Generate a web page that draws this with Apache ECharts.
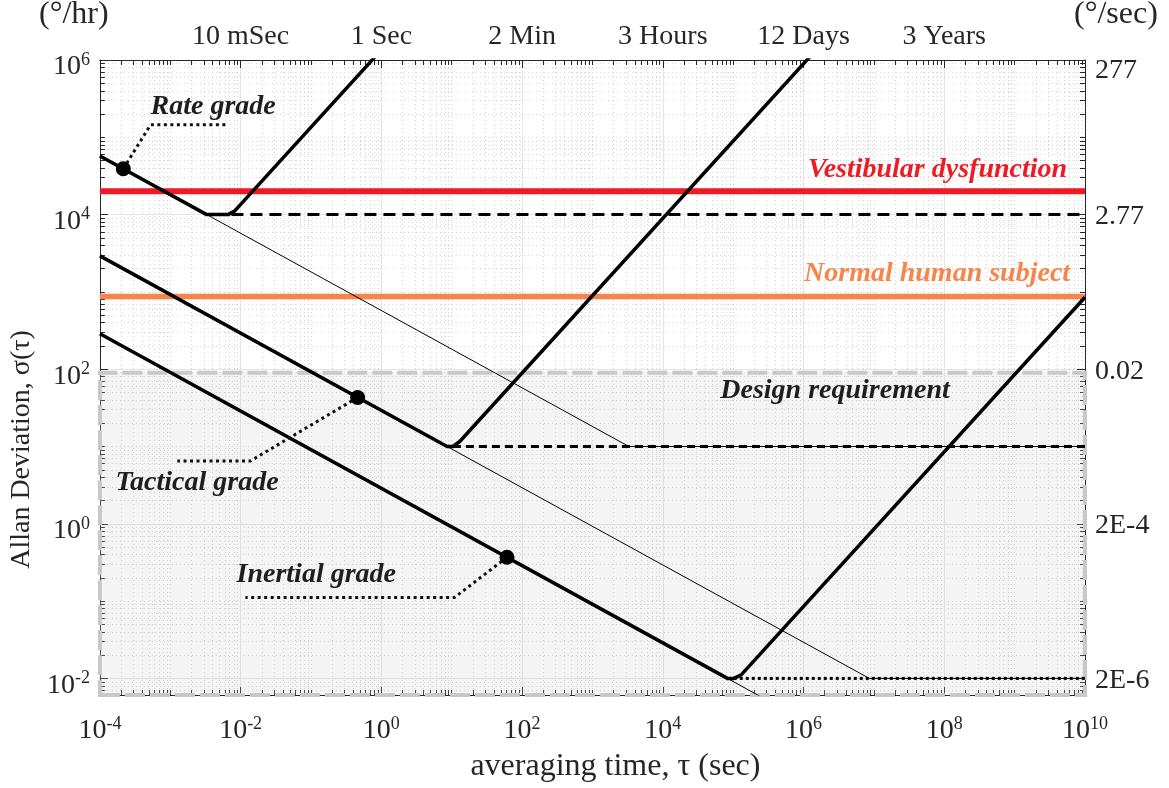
<!DOCTYPE html>
<html><head><meta charset="utf-8">
<script src="https://cdn.jsdelivr.net/npm/echarts@6/dist/echarts.min.js"></script>
<style>html,body{margin:0;padding:0;background:#fff}#chart{width:1169px;height:788px}</style>
</head><body><div id="chart"></div>
<script>
// ---------- axis ranges & ticks ----------
const X_MIN = 1e-4, X_MAX = 1e10;
const Y_MIN = 0.0061, Y_MAX = 1e6;
const xMajorTicks = [1e-4, 1e-2, 1, 1e2, 1e4, 1e6, 1e8, 1e10];
const yMajorTicks = [1e-2, 1, 1e2, 1e4, 1e6];
const topTickValues = [1e-2, 1, 1e2, 1e4, 1e6, 1e8];
const topTickLabels = ['10 mSec', '1 Sec', '2 Min', '3 Hours', '12 Days', '3 Years'];
const rightTickValues = [1e-2, 1, 1e2, 1e4, 1e6];
const rightTickLabels = ['2E-6', '2E-4', '0.02', '2.77', '277'];

// ---------- reference levels ----------
const vestibularLevel = 2e4;
const normalHumanLevel = 870;
const designRequirement = 90;

// ---------- sensor grade curves (tau, Allan deviation deg/hr) ----------
const rateTau = [1e-4, 3.3e-3, 6.6e-3, 8.2e-3, 1.0];
const rateAdev = [5.74e4, 1e4, 1e4, 1.11e4, 1.35e6];
const tacticalTau = [1e-4, 8.6, 10.4, 13, 2e6];
const tacticalAdev = [2925, 10, 10, 11.6, 1.79e6];
const inertialTau = [1e-4, 8.3e4, 1.02e5, 1.3e5, 1e10];
const inertialAdev = [288, 0.01, 0.01, 0.0111, 854];

// bias-instability floors (dashed)
const rateBiasTau = [7.4e-3, 1e10];      const rateBiasAdev = [1e4, 1e4];
const tacticalBiasTau = [10.4, 1e10];    const tacticalBiasAdev = [10, 10];
const inertialBiasTau = [1.02e5, 1e10];  const inertialBiasAdev = [0.01, 0.01];

// thin extrapolations of the white-noise slopes
const rateExtTau = [3.3e-3, 3.3e3, 1e10];     const rateExtAdev = [1e4, 10, 10];
const tacticalExtTau = [8.6, 8.6e6, 1e10];    const tacticalExtAdev = [10, 0.01, 0.01];
const inertialExtTau = [8.3e4, 1e6];          const inertialExtAdev = [0.01, 0.00288];

// marker dots and leader lines
const dotTau = [2.15e-4, 0.46, 61];
const dotAdev = [3.92e4, 43.1, 0.369];
const rateLeaderTau = [2.15e-4, 5.25e-4, 6.1e-3];      const rateLeaderAdev = [3.92e4, 1.45e5, 1.45e5];
const tacticalLeaderTau = [0.46, 0.0138, 1.26e-3];     const tacticalLeaderAdev = [43.1, 6.5, 6.5];
const inertialLeaderTau = [61, 10.9, 0.0117];          const inertialLeaderAdev = [0.369, 0.111, 0.111];

// annotations
const annText = ['Rate grade', 'Tactical grade', 'Inertial grade', 'Design requirement', 'Vestibular dysfunction', 'Normal human subject'];
const annTau = [5.25e-4, 1.67e-4, 8.75e-3, 6.56e4, 5.57e9, 6.14e9];
const annAdev = [2.5e5, 3.41, 0.222, 52.5, 3.84e4, 1698];

// ---------- styling ----------
const FONT = '"Liberation Serif", "Times New Roman", serif';
const TXT = '#262626';
const RED = '#ed1c24', ORANGE = '#f5854a';
const annColor = ['#1e1e1e', '#1e1e1e', '#1e1e1e', '#1e1e1e', RED, ORANGE];
const annPos = ['right', 'right', 'right', 'right', 'left', 'left'];

function minorTicks(lo, hi, from, to) {
  const out = [];
  for (let e = from; e <= to; e++) {
    for (let m = 1; m <= 9; m++) {
      if (m === 1 && e % 2 === 0) continue;
      const v = m * Math.pow(10, e);
      if (v >= lo * 0.999 && v <= hi * 1.001) out.push(v);
    }
  }
  return out;
}
const xMinor = minorTicks(X_MIN, X_MAX, -4, 9);
const yMinor = minorTicks(Y_MIN, Y_MAX, -3, 5);

const zip = (t, v) => t.map((x, i) => [x, v[i]]);
function powLabel(v) {
  const e = Math.round(Math.log10(v));
  return '{b|10}{s|' + e + '}';
}
const powRich = {
  b: { fontSize: 28, fontFamily: FONT, color: TXT, lineHeight: 30, verticalAlign: 'bottom' },
  s: { fontSize: 18, fontFamily: FONT, color: TXT, lineHeight: 18, verticalAlign: 'top' }
};
function lookup(values, labels, richTop) {
  return v => {
    const e = Math.round(Math.log10(v));
    const i = values.findIndex(x => Math.round(Math.log10(x)) === e);
    if (i < 0) return '';
    if (richTop && i === values.length - 1) return '{t|' + labels[i] + '}';
    return labels[i];
  };
}

function lineSeries(name, taus, vals, lineStyle, z) {
  return { name, type: 'line', data: zip(taus, vals), symbol: 'none', silent: true,
    lineStyle: Object.assign({ join: 'round', cap: 'butt', opacity: 1 }, lineStyle), z: z, clip: true };
}

const axisLineStyle = { color: TXT, width: 1 };
const baseLog = (extra) => Object.assign({ type: 'log', logBase: 10, gridIndex: 0 }, extra);
const minorGrid = { show: true, lineStyle: { color: '#d4d4d4', width: 1, type: [1, 3] } };

const option = {
  animation: false,
  backgroundColor: '#fff',
  grid: { left: 99, right: 84, top: 60, bottom: 93, containLabel: false },
  title: [
    { text: '(°/hr)', left: 39, top: -1, padding: 0, textStyle: { fontFamily: FONT, fontSize: 32, fontWeight: 'normal', color: TXT } },
    { text: '(°/sec)', left: 1074, top: -1, padding: 0, textStyle: { fontFamily: FONT, fontSize: 32, fontWeight: 'normal', color: TXT } }
  ],
  xAxis: [
    baseLog({ position: 'bottom', min: X_MIN, max: X_MAX,
      name: 'averaging time, τ (sec)', nameLocation: 'middle', nameGap: 56,
      nameTextStyle: { fontFamily: FONT, fontSize: 32, color: TXT, padding: [0, 0, 0, 46] },
      axisLine: { show: true, lineStyle: axisLineStyle },
      axisTick: { show: true, inside: true, length: 8, customValues: xMajorTicks, lineStyle: axisLineStyle },
      axisLabel: { show: true, customValues: xMajorTicks, formatter: powLabel, rich: powRich, margin: 20, showMinLabel: true, showMaxLabel: true, hideOverlap: false },
      splitLine: { show: true, lineStyle: { color: '#e4e4e4', width: 1 } },
      minorTick: { show: false }, minorSplitLine: { show: false } }),
    baseLog({ position: 'top', min: X_MIN, max: X_MAX,
      axisLine: { show: true, lineStyle: axisLineStyle },
      axisTick: { show: true, inside: true, length: 8, customValues: xMajorTicks, lineStyle: axisLineStyle },
      axisLabel: { show: true, customValues: topTickValues, formatter: lookup(topTickValues, topTickLabels),
        fontFamily: FONT, fontSize: 28, color: TXT, margin: 9, hideOverlap: false },
      splitLine: { show: false } }),
    baseLog({ position: 'bottom', min: X_MIN, max: X_MAX,
      axisLine: { show: false },
      axisTick: { show: true, inside: true, length: 5, customValues: xMinor, lineStyle: axisLineStyle },
      axisLabel: { show: false },
      splitLine: minorGrid }),
    baseLog({ position: 'top', min: X_MIN, max: X_MAX,
      axisLine: { show: false },
      axisTick: { show: true, inside: true, length: 5, customValues: xMinor, lineStyle: axisLineStyle },
      axisLabel: { show: false }, splitLine: { show: false } })
  ],
  yAxis: [
    baseLog({ position: 'left', min: Y_MIN, max: Y_MAX,
      name: 'Allan Deviation, σ(τ)', nameLocation: 'middle', nameGap: 62, nameRotate: 90,
      nameTextStyle: { fontFamily: FONT, fontSize: 28, color: TXT, padding: [0, 144, 0, 0] },
      axisLine: { show: true, lineStyle: axisLineStyle },
      axisTick: { show: true, inside: true, length: 8, customValues: yMajorTicks, lineStyle: axisLineStyle },
      axisLabel: { show: true, customValues: yMajorTicks, formatter: powLabel, rich: powRich, margin: 10, padding: [12, 0, 0, 0], hideOverlap: false },
      splitLine: { show: true, lineStyle: { color: '#e4e4e4', width: 1 } } }),
    baseLog({ position: 'right', min: Y_MIN, max: Y_MAX,
      axisLine: { show: true, lineStyle: axisLineStyle },
      axisTick: { show: true, inside: true, length: 8, customValues: yMajorTicks, lineStyle: axisLineStyle },
      axisLabel: { show: true, customValues: rightTickValues, formatter: lookup(rightTickValues, rightTickLabels, true),
        fontFamily: FONT, fontSize: 28, color: TXT, margin: 10, padding: [4, 0, 0, 0], hideOverlap: false,
        rich: { t: { fontFamily: FONT, fontSize: 28, color: TXT, padding: [18, 0, 0, 0] } } },
      splitLine: { show: false } }),
    baseLog({ position: 'left', min: Y_MIN, max: Y_MAX,
      axisLine: { show: false },
      axisTick: { show: true, inside: true, length: 5, customValues: yMinor, lineStyle: axisLineStyle },
      axisLabel: { show: false },
      splitLine: minorGrid }),
    baseLog({ position: 'right', min: Y_MIN, max: Y_MAX,
      axisLine: { show: false },
      axisTick: { show: true, inside: true, length: 5, customValues: yMinor, lineStyle: axisLineStyle },
      axisLabel: { show: false }, splitLine: { show: false } })
  ],
  series: [
    // design requirement border (under everything)
    { name: 'designBorder', type: 'line', data: [], silent: true, z: -1,
      markArea: { silent: true, itemStyle: { color: 'rgba(0,0,0,0)', borderColor: '#c8c8c8', borderWidth: 4, borderType: [20, 5] },
        data: [[{ coord: [X_MIN, Y_MIN] }, { coord: [X_MAX, designRequirement] }]] } },
    lineSeries('Vestibular dysfunction', [X_MIN, X_MAX], [vestibularLevel, vestibularLevel], { color: RED, width: 6 }, 2),
    lineSeries('Normal human subject', [X_MIN, X_MAX], [normalHumanLevel, normalHumanLevel], { color: ORANGE, width: 5.5 }, 2),
    lineSeries('rateBias', rateBiasTau, rateBiasAdev, { color: '#000', width: 3, type: [12, 7] }, 3),
    lineSeries('tacticalBias', tacticalBiasTau, tacticalBiasAdev, { color: '#000', width: 3, type: [8, 5] }, 3),
    lineSeries('inertialBias', inertialBiasTau, inertialBiasAdev, { color: '#000', width: 3, type: [3, 3] }, 3),
    lineSeries('rateExt', rateExtTau, rateExtAdev, { color: '#000', width: 1 }, 4),
    lineSeries('tacticalExt', tacticalExtTau, tacticalExtAdev, { color: '#000', width: 1 }, 4),
    lineSeries('inertialExt', inertialExtTau, inertialExtAdev, { color: '#000', width: 1 }, 4),
    lineSeries('Rate grade', rateTau, rateAdev, { color: '#000', width: 3.5 }, 5),
    lineSeries('Tactical grade', tacticalTau, tacticalAdev, { color: '#000', width: 3.5 }, 5),
    lineSeries('Inertial grade', inertialTau, inertialAdev, { color: '#000', width: 3.5 }, 5),
    lineSeries('rateLeader', rateLeaderTau, rateLeaderAdev, { color: '#111', width: 3, type: [3, 3.5] }, 5),
    lineSeries('tacticalLeader', tacticalLeaderTau, tacticalLeaderAdev, { color: '#111', width: 3, type: [3, 3.5] }, 5),
    lineSeries('inertialLeader', inertialLeaderTau, inertialLeaderAdev, { color: '#111', width: 3, type: [3, 3.5] }, 5),
    { name: 'dots', type: 'scatter', data: zip(dotTau, dotAdev), symbol: 'circle', symbolSize: 15,
      itemStyle: { color: '#000', opacity: 1 }, silent: true, z: 6 },
    // translucent design-requirement patch drawn over the curves
    { name: 'designPatch', type: 'line', data: [], silent: true, z: 8,
      markArea: { silent: true, itemStyle: { color: 'rgba(199,201,199,0.2)' },
        data: [[{ coord: [X_MIN, Y_MIN] }, { coord: [X_MAX, designRequirement] }]] } },
    { name: 'annotations', type: 'scatter', silent: true, z: 10, symbolSize: 0,
      itemStyle: { color: '#000', opacity: 1 },
      data: annText.map((t, i) => ({ name: t, value: [annTau[i], annAdev[i]],
        label: { show: true, position: annPos[i], distance: 0, formatter: '{b}', opacity: 1,
          fontFamily: FONT, fontSize: 28, fontStyle: 'italic', fontWeight: 'bold', color: annColor[i] } })) }
  ]
};

const chart = echarts.init(document.getElementById('chart'), null, { renderer: 'canvas' });
chart.setOption(option);
</script>
</body></html>
